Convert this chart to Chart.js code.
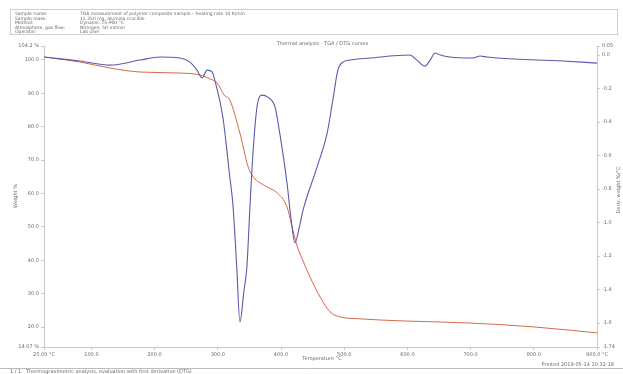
<!DOCTYPE html>
<html>
<head>
<meta charset="utf-8">
<script src="https://cdn.jsdelivr.net/npm/chart.js@4"></script>
<style>
  html, body { margin: 0; padding: 0; background: #fff; }
  #wrap { width: 623px; height: 374px; position: relative; }
</style>
</head>
<body>
<div id="wrap"><canvas id="tga"></canvas></div>
<script>
// TG curve (weight %, left axis)
const tgTemp = [25, 82, 129, 177, 240, 272, 288, 299, 310, 319, 335, 348, 356, 367, 378, 394, 409.5, 417, 425, 433, 446, 462, 477.5, 493, 525, 588, 694, 799, 900];
const tgWeight = [100.9, 99.4, 97.6, 96.4, 96.1, 95.5, 94.3, 93.1, 89.5, 88.0, 78.1, 68.0, 65.0, 63.2, 62.0, 60.2, 56.0, 50.5, 44.6, 40.7, 35.0, 29.0, 24.6, 23.1, 22.5, 21.9, 21.3, 20.1, 18.3];

// DTG curve (derivative, right axis)
const dtgTemp = [25, 82, 129, 177, 208.5, 240, 256, 267, 275, 283, 291, 296, 308, 319, 324, 330, 335, 341.5, 346, 351, 356, 362, 370, 379, 390.5, 398, 409.5, 417, 422, 428, 435, 457, 473, 482, 490, 498, 509, 541, 604, 615, 628, 636, 644, 652, 667, 704, 715, 726, 742, 846, 900];
const dtgDeriv = [-0.012, -0.036, -0.060, -0.030, -0.012, -0.018, -0.042, -0.090, -0.137, -0.090, -0.101, -0.161, -0.370, -0.728, -0.896, -1.266, -1.594, -1.403, -1.266, -0.896, -0.567, -0.310, -0.239, -0.251, -0.310, -0.466, -0.764, -1.015, -1.122, -1.045, -0.925, -0.669, -0.466, -0.269, -0.090, -0.042, -0.030, -0.018, 0.000, -0.030, -0.066, -0.030, 0.012, 0.000, -0.012, -0.018, -0.006, -0.012, -0.018, -0.036, -0.048];

// tick values + labels
const tempTicks = [25, 100, 200, 300, 400, 500, 600, 700, 800, 900];
const tempLabels = ['25.00 °C', '100.0', '200.0', '300.0', '400.0', '500.0', '600.0', '700.0', '800.0', '900.0 °C'];
const weightTicks = [14.07, 20, 30, 40, 50, 60, 70, 80, 90, 100, 104.19];
const weightLabels = ['14.07 %', '20.0', '30.0', '40.0', '50.0', '60.0', '70.0', '80.0', '90.0', '100.0', '104.2 %'];
const derivTicks = [-1.743, -1.6, -1.4, -1.2, -1.0, -0.8, -0.6, -0.4, -0.2, 0, 0.054];
const derivLabels = ['-1.74', '-1.6', '-1.4', '-1.2', '-1.0', '-0.8', '-0.6', '-0.4', '-0.2', '0.0', '0.05'];

const headerRows = [
  ['Sample name:', 'TGA measurement of polymer composite sample – heating rate 10 K/min'],
  ['Sample mass:', '12.350 mg, alumina crucible'],
  ['Method:', 'Dynamic 25-900 °C'],
  ['Atmosphere, gas flow:', 'Nitrogen, 50 ml/min'],
  ['Operator:', 'Lab user']
];

const axisFont = { family: 'DejaVu Sans', size: 5 };
const textGray = '#6a6a6a';

function fixedTicks(values) {
  return scale => { scale.ticks = values.map(v => ({ value: v })); };
}

const extras = {
  id: 'extras',
  beforeDraw(chart) {
    const c = chart.ctx;
    c.save();
    c.fillStyle = '#fff';
    c.fillRect(0, 0, chart.width, chart.height);
    c.restore();
  },
  afterDraw(chart) {
    const c = chart.ctx;
    const a = chart.chartArea;
    c.save();
    // header box
    c.strokeStyle = '#cfcfcf';
    c.lineWidth = 1;
    c.strokeRect(10.5, 9.5, 607, 25);
    c.fillStyle = textGray;
    c.font = '4.5px "DejaVu Sans"';
    c.textBaseline = 'middle';
    headerRows.forEach((r, i) => {
      const y = 14 + i * 4.5;
      c.fillText(r[0], 15, y);
      c.fillText(r[1], 80, y);
    });
    // title
    c.font = '5px "DejaVu Sans"';
    c.textAlign = 'center';
    c.fillText('Thermal analysis - TGA / DTG curves', (a.left + a.right) / 2 + 2, 44);
    // x title
    c.fillText('Temperature °C', 322, 359);
    // y titles
    c.save();
    c.translate(16, 196);
    c.rotate(-Math.PI / 2);
    c.fillText('Weight %', 0, 0);
    c.restore();
    c.save();
    c.translate(619, 190);
    c.rotate(-Math.PI / 2);
    c.fillText('Deriv. weight %/°C', 0, 0);
    c.restore();
    // footer
    c.strokeStyle = '#bdbdbd';
    c.beginPath();
    c.moveTo(0, 368.5);
    c.lineTo(623, 368.5);
    c.stroke();
    c.textAlign = 'left';
    c.fillText('1 / 1   Thermogravimetric analysis, evaluation with first derivative (DTG)', 10, 371.5);
    c.textAlign = 'right';
    c.fillText('Printed 2019-05-14 10:32:18', 614, 365);
    c.restore();
  }
};

new Chart(document.getElementById('tga'), {
  type: 'line',
  data: {
    datasets: [
      {
        label: 'DTG',
        data: dtgTemp.map((t, i) => ({ x: t, y: dtgDeriv[i] })),
        yAxisID: 'yD',
        borderColor: '#5b5bab',
        borderWidth: 1.1,
        pointRadius: 0,
        cubicInterpolationMode: 'monotone'
      },
      {
        label: 'TG',
        data: tgTemp.map((t, i) => ({ x: t, y: tgWeight[i] })),
        yAxisID: 'yW',
        borderColor: '#d4694c',
        borderWidth: 1,
        pointRadius: 0,
        cubicInterpolationMode: 'monotone'
      }
    ]
  },
  options: {
    responsive: true,
    maintainAspectRatio: false,
    animation: false,
    layout: { padding: { top: 46, left: 0, right: 0, bottom: 0 } },
    plugins: { legend: { display: false }, tooltip: { enabled: false } },
    scales: {
      x: {
        type: 'linear',
        min: 25, max: 900,
        afterBuildTicks: fixedTicks(tempTicks),
        afterFit: s => { s.height = 27; },
        border: { color: '#c8c8c8' },
        grid: { drawOnChartArea: false, tickLength: 3, color: '#c8c8c8' },
        ticks: {
          font: axisFont, color: textGray, padding: 2, maxRotation: 0, autoSkip: false,
          callback: (v, i) => tempLabels[i]
        }
      },
      yW: {
        position: 'left',
        min: 14.07, max: 104.19,
        afterBuildTicks: fixedTicks(weightTicks),
        afterFit: s => { s.width = 44; },
        border: { color: '#c8c8c8' },
        grid: { drawOnChartArea: false, tickLength: 3, color: '#c8c8c8' },
        ticks: {
          font: axisFont, color: textGray, padding: 2, autoSkip: false,
          callback: (v, i) => weightLabels[i]
        }
      },
      yD: {
        position: 'right',
        min: -1.743, max: 0.054,
        afterBuildTicks: fixedTicks(derivTicks),
        afterFit: s => { s.width = 26; },
        border: { color: '#c8c8c8' },
        grid: { drawOnChartArea: false, tickLength: 3, color: '#c8c8c8' },
        ticks: {
          font: axisFont, color: textGray, padding: 2, autoSkip: false,
          callback: (v, i) => derivLabels[i]
        }
      }
    }
  },
  plugins: [extras]
});
</script>
</body>
</html>
